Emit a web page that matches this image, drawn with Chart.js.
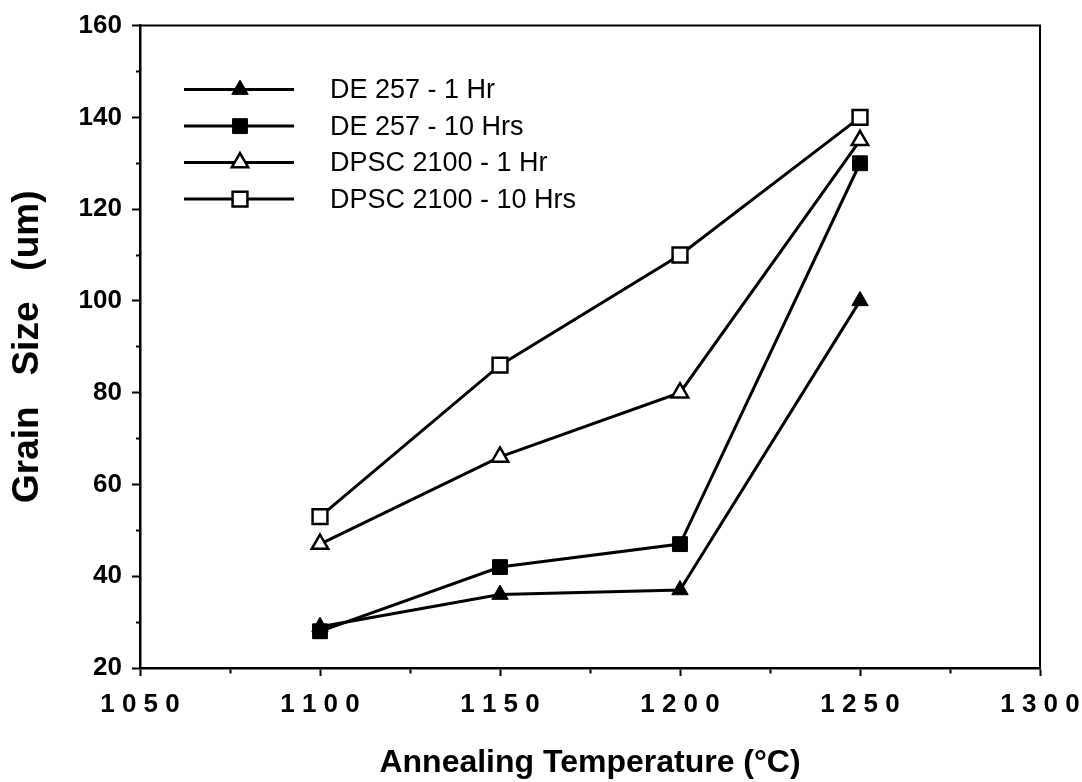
<!DOCTYPE html>
<html>
<head>
<meta charset="utf-8">
<title>Grain Size vs Annealing Temperature</title>
<script src="https://cdn.jsdelivr.net/npm/chart.js@4/dist/chart.umd.min.js"></script>
<style>
  html, body { margin: 0; padding: 0; background: #fff; }
  #wrap { width: 1082px; height: 782px; }
</style>
</head>
<body>
<div id="wrap"><canvas id="grain" width="1082" height="782"></canvas></div>
<script>
// annealing temperatures (°C)
const temps = [1100, 1150, 1200, 1250];

// grain size (um) per series
const de257_1hr = [29, 36, 37, 100];
const de257_10hrs = [28, 42, 47, 130];
const dpsc2100_1hr = [47, 66, 80, 135];
const dpsc2100_10hrs = [53, 86, 110, 140];

const seriesLabels = ['DE 257 - 1 Hr', 'DE 257 - 10 Hrs', 'DPSC 2100 - 1 Hr', 'DPSC 2100 - 10 Hrs'];

// axis ranges: major labels every 50 / 20, minor ticks in between
const xMin = 1050, xMax = 1300, xMinor = 25, xMajor = 50;
const yMin = 20, yMax = 160, yMinor = 10, yMajor = 20;

const FONT = '"Liberation Sans", Arial, Helvetica, sans-serif';
const INK = '#000';

function toPoints(values) {
    return temps.map((t, i) => ({ x: t, y: values[i] }));
}

function series(label, values, style, filled) {
    const r = style === 'rect' ? 10.5 : 9.5;
    return {
        label: label,
        data: toPoints(values),
        borderColor: INK,
        borderWidth: 3,
        pointStyle: style,
        pointRadius: r,
        pointHoverRadius: r,
        pointBorderWidth: filled ? 1 : 2.5,
        pointBorderColor: INK,
        pointBackgroundColor: filled ? INK : '#fff',
        tension: 0,
        fill: false
    };
}

// Legend drawn as a line with the marker sitting on it
const lineLegend = {
    id: 'lineLegend',
    afterDraw(chart) {
        const ctx = chart.ctx;
        const area = chart.chartArea;
        const x0 = area.left + 44, x1 = area.left + 154, xm = area.left + 100;
        const textX = area.left + 190;
        const top = area.top + 64, gap = 36.5;
        ctx.save();
        chart.data.datasets.forEach((ds, i) => {
            const y = top + i * gap;
            ctx.strokeStyle = INK;
            ctx.lineWidth = ds.borderWidth;
            ctx.beginPath();
            ctx.moveTo(x0, y);
            ctx.lineTo(x1, y);
            ctx.stroke();
            const r = ds.pointRadius;
            ctx.beginPath();
            if (ds.pointStyle === 'rect') {
                const h = Math.SQRT1_2 * r;
                ctx.rect(xm - h, y - h, 2 * h, 2 * h);
            } else {
                const c = Math.cos(Math.PI / 6) * r;
                ctx.moveTo(xm, y - r);
                ctx.lineTo(xm + c, y + r / 2);
                ctx.lineTo(xm - c, y + r / 2);
                ctx.closePath();
            }
            ctx.fillStyle = ds.pointBackgroundColor;
            ctx.fill();
            ctx.lineWidth = ds.pointBorderWidth;
            ctx.stroke();
            ctx.fillStyle = INK;
            ctx.font = '27px ' + FONT;
            ctx.textBaseline = 'middle';
            ctx.textAlign = 'left';
            ctx.fillText(ds.label, textX, y + 1);
        });
        ctx.restore();
    }
};

// top and right edges of the plot box
const frame = {
    id: 'frame',
    beforeDatasetsDraw(chart) {
        const { ctx, chartArea: a } = chart;
        ctx.save();
        ctx.strokeStyle = INK;
        ctx.lineWidth = 2;
        ctx.beginPath();
        ctx.moveTo(a.left, a.top);
        ctx.lineTo(a.right, a.top);
        ctx.lineTo(a.right, a.bottom);
        ctx.stroke();
        ctx.restore();
    }
};

new Chart(document.getElementById('grain'), {
    type: 'line',
    data: {
        datasets: [
            series(seriesLabels[0], de257_1hr, 'triangle', true),
            series(seriesLabels[1], de257_10hrs, 'rect', true),
            series(seriesLabels[2], dpsc2100_1hr, 'triangle', false),
            series(seriesLabels[3], dpsc2100_10hrs, 'rect', false)
        ]
    },
    options: {
        responsive: false,
        animation: false,
        events: [],
        layout: { padding: { left: 0, right: 42, top: 24, bottom: 0 } },
        plugins: {
            legend: { display: false },
            tooltip: { enabled: false }
        },
        scales: {
            x: {
                type: 'linear',
                min: xMin,
                max: xMax,
                afterFit: (scale) => {
                    scale.height = 114;
                    scale.paddingLeft = 0;
                    scale.paddingRight = 0;
                },
                border: { display: true, color: INK, width: 2.5 },
                grid: {
                    drawOnChartArea: false,
                    drawTicks: true,
                    tickLength: 8,
                    tickColor: INK,
                    tickWidth: 2,
                    tickBorderDash: (c) => (c.tick && c.tick.value % xMajor !== 0 ? [4, 4] : []),
                    tickBorderDashOffset: 0
                },
                ticks: {
                    stepSize: xMinor,
                    autoSkip: false,
                    maxRotation: 0,
                    padding: 13,
                    color: INK,
                    font: { family: FONT, size: 26, weight: 'bold' },
                    callback: (v) => (v % xMajor === 0 ? String(v).split('').join(' ') : '')
                },
                title: {
                    display: true,
                    text: 'Annealing Temperature (°C)',
                    color: INK,
                    font: { family: FONT, size: 32, weight: 'bold', lineHeight: 1.2 },
                    padding: { top: 0, bottom: 0 }
                }
            },
            y: {
                type: 'linear',
                min: yMin,
                max: yMax,
                afterFit: (scale) => { scale.width = 140; },
                border: { display: true, color: INK, width: 2.5 },
                grid: {
                    drawOnChartArea: false,
                    drawTicks: true,
                    tickLength: 8,
                    tickColor: INK,
                    tickWidth: 2,
                    tickBorderDash: (c) => (c.tick && c.tick.value % yMajor !== 0 ? [4, 4] : []),
                    tickBorderDashOffset: (c) => (c.tick && c.tick.value % yMajor !== 0 ? 4 : 0)
                },
                ticks: {
                    stepSize: yMinor,
                    autoSkip: false,
                    padding: 10,
                    color: INK,
                    font: { family: FONT, size: 26, weight: 'bold' },
                    callback: (v) => (v % yMajor === 0 ? String(v) : '')
                },
                title: {
                    display: true,
                    text: 'Grain   Size   (um)',
                    color: INK,
                    font: { family: FONT, size: 37, weight: 'bold', lineHeight: 1.2 },
                    padding: { top: 6, bottom: 0 }
                }
            }
        }
    },
    plugins: [frame, lineLegend]
});
</script>
</body>
</html>
